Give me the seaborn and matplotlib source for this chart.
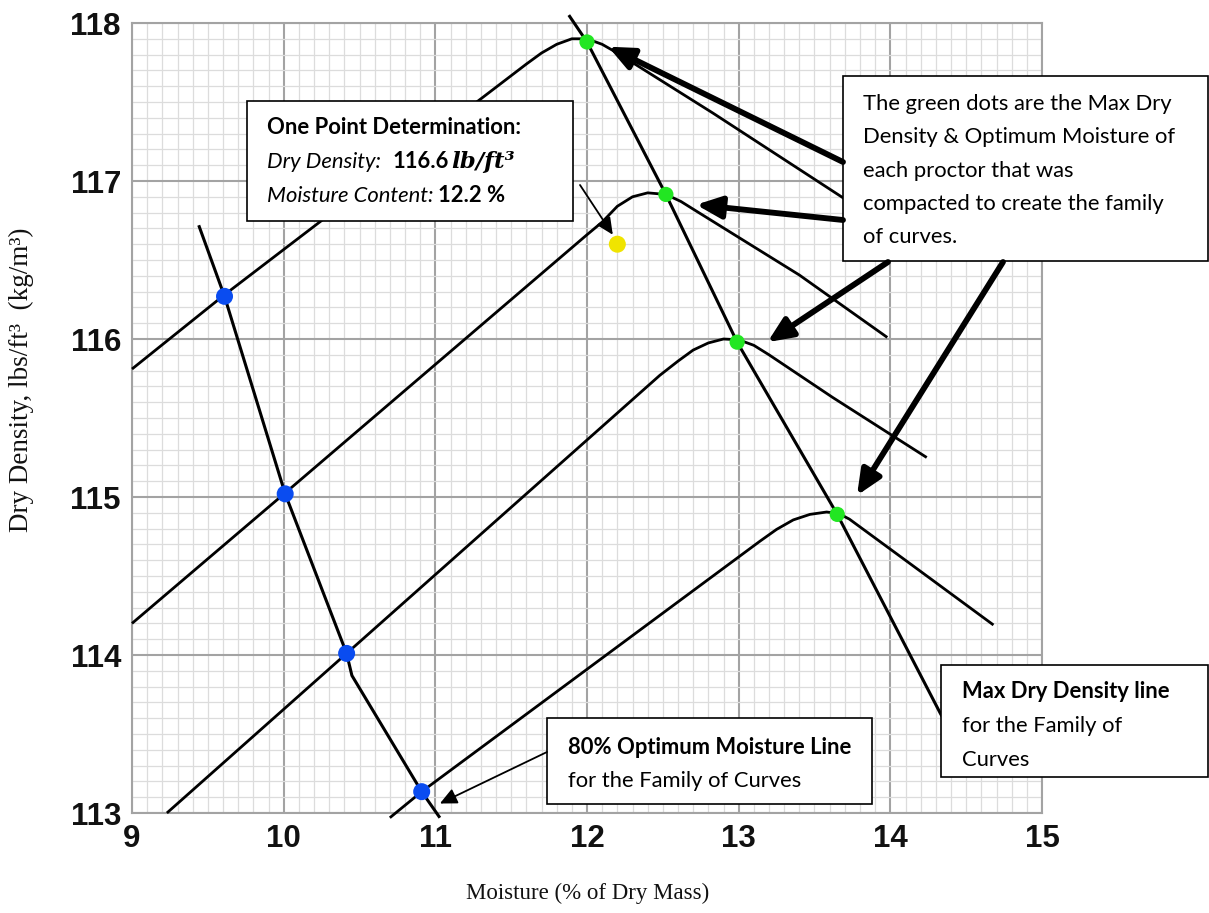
import matplotlib
matplotlib.use('Agg')
import matplotlib.pyplot as plt
import seaborn as sns
from matplotlib.patches import Rectangle
from matplotlib.ticker import MultipleLocator

# ---------------- data ----------------
x_ticks = [9, 10, 11, 12, 13, 14, 15]
y_ticks = [113, 114, 115, 116, 117, 118]

curve1_x = [9.00, 9.61, 11.60, 11.70, 11.80, 11.90, 12.00, 12.10, 12.20, 12.83, 13.95]
curve1_y = [115.81, 116.28, 117.74, 117.81, 117.865, 117.90, 117.90, 117.865, 117.81, 117.43, 116.73]

curve2_x = [9.00, 10.015, 12.00, 12.10, 12.20, 12.30, 12.40, 12.52, 12.62, 12.72, 13.40, 13.98]
curve2_y = [114.20, 115.03, 116.66, 116.74, 116.84, 116.90, 116.925, 116.915, 116.87, 116.81, 116.405, 116.01]

curve3_x = [9.23, 10.415, 12.48, 12.60, 12.70, 12.80, 12.90, 13.00, 13.10, 13.20, 13.62, 14.24]
curve3_y = [113.00, 114.01, 115.77, 115.86, 115.93, 115.975, 116.00, 115.995, 115.96, 115.90, 115.63, 115.25]

curve4_x = [10.70, 10.91, 13.14, 13.25, 13.36, 13.47, 13.58, 13.66, 13.73, 14.17, 14.68]
curve4_y = [112.97, 113.135, 114.72, 114.795, 114.855, 114.89, 114.905, 114.895, 114.86, 114.55, 114.19]

mdd_line_x = [11.88, 12.00, 12.52, 12.99, 13.65, 14.33, 14.55]
mdd_line_y = [118.05, 117.88, 116.915, 115.98, 114.89, 113.63, 113.25]

opt80_line_x = [9.44, 9.61, 10.01, 10.415, 10.45, 10.91, 11.03]
opt80_line_y = [116.72, 116.27, 115.02, 114.01, 113.87, 113.135, 112.97]

green_x = [12.00, 12.52, 12.99, 13.65]
green_y = [117.88, 116.915, 115.98, 114.89]

blue_x = [9.61, 10.01, 10.415, 10.91]
blue_y = [116.27, 115.02, 114.01, 113.135]

one_point_x = [12.2]
one_point_y = [116.6]

# ---------------- figure ----------------
sns.set_theme(style='white')
plt.rcParams['font.family'] = ['DejaVu Sans']

W, H = 1209, 913
fig = plt.figure(figsize=(W / 100, H / 100), dpi=100)
ax = fig.add_axes([132 / W, 1 - 813 / H, (1042 - 132) / W, (813 - 23) / H])

for cx, cy in [(curve1_x, curve1_y), (curve2_x, curve2_y),
               (curve3_x, curve3_y), (curve4_x, curve4_y)]:
    sns.lineplot(x=cx, y=cy, sort=False, estimator=None, color='black',
                 lw=2.0, ax=ax)
sns.lineplot(x=mdd_line_x, y=mdd_line_y, sort=False, estimator=None,
             color='black', lw=2.2, ax=ax)
sns.lineplot(x=opt80_line_x, y=opt80_line_y, sort=False, estimator=None,
             color='black', lw=2.2, ax=ax)
for ln in ax.lines:
    ln.set_clip_on(False)
    ln.set_solid_capstyle('butt')
    ln.set_solid_joinstyle('round')
    ln.set_zorder(3)

sns.scatterplot(x=blue_x, y=blue_y, color='#0a4cf0', s=150, edgecolor='none',
                ax=ax, zorder=5, clip_on=False)
sns.scatterplot(x=green_x, y=green_y, color='#22e622', s=120, edgecolor='none',
                ax=ax, zorder=5, clip_on=False)
sns.scatterplot(x=one_point_x, y=one_point_y, color='#f0e400', s=150,
                edgecolor='none', ax=ax, zorder=5, clip_on=False)

ax.set_xlim(9, 15)
ax.set_ylim(113, 118)
ax.set_xticks(x_ticks)
ax.set_yticks(y_ticks)
ax.set_xticklabels([str(v) for v in x_ticks])
ax.set_yticklabels([str(v) for v in y_ticks])
ax.xaxis.set_minor_locator(MultipleLocator(0.1))
ax.yaxis.set_minor_locator(MultipleLocator(0.1))
ax.grid(which='minor', color='#dcdcdc', lw=0.9)
ax.grid(which='major', color='#a3a3a3', lw=1.5)
ax.set_axisbelow(True)
for sp in ax.spines.values():
    sp.set_color('#a3a3a3')
    sp.set_linewidth(1.5)
ax.tick_params(which='both', length=0)
ax.tick_params(axis='x', pad=8)
ax.tick_params(axis='y', pad=8)
for lab in ax.get_xticklabels() + ax.get_yticklabels():
    lab.set_fontfamily('Liberation Sans')
    lab.set_fontweight('bold')
    lab.set_fontsize(22.5)
    lab.set_color('#111111')
ax.set_xlabel('')
ax.set_ylabel('')

fig.text(588 / W, 1 - 893 / H, 'Moisture (% of Dry Mass)',
         family='Liberation Serif', fontsize=16.5, ha='center', va='center',
         color='#111111')
fig.text(21 / W, 1 - 380 / H, 'Dry Density, lbs/ft³  (kg/m³)',
         family='Liberation Serif', fontsize=19.5, ha='center', va='center',
         rotation=90, color='#111111')

# ---------------- boxes ----------------
def box(x0, y0, x1, y1):
    r = Rectangle((x0 / W, 1 - y1 / H), (x1 - x0) / W, (y1 - y0) / H,
                  transform=fig.transFigure, facecolor='white',
                  edgecolor='black', lw=1.2, zorder=10, clip_on=False)
    ax.add_artist(r)

SANS = 'Lato'
FS = 15.8

def text_line(x_px, base_px, pieces, fs=FS):
    prev = None
    for s, kw, gap in pieces:
        opts = dict(family=SANS, fontsize=fs, color='black')
        opts.update(kw)
        if prev is None:
            t = ax.annotate(s, xy=(x_px, H - base_px), xycoords='figure pixels',
                            va='baseline', ha='left', annotation_clip=False,
                            zorder=11, **opts)
        else:
            t = ax.annotate(s, xy=(1, H - base_px),
                            xycoords=(prev, 'figure pixels'),
                            xytext=(gap, 0), textcoords='offset points',
                            va='baseline', ha='left', annotation_clip=False,
                            zorder=11, **opts)
        prev = t

# One point box
box(247, 101, 573, 221)
text_line(267, 134, [('One Point Determination:', dict(weight='bold'), 0)])
text_line(267, 168, [('Dry Density:', dict(style='italic'), 0),
                     ('116.6', dict(weight='bold'), 8),
                     ('lb/ft³', dict(family='DejaVu Serif', weight='bold',
                                     style='italic', fontsize=16.5), 2)])
text_line(267, 202, [('Moisture Content:', dict(style='italic'), 0),
                     ('12.2 %', dict(weight='bold'), 3)])

# Green dots box
box(843, 76, 1208, 261)
green_lines = ['The green dots are the Max Dry',
               'Density & Optimum Moisture of',
               'each proctor that was',
               'compacted to create the family',
               'of curves.']
for i, s in enumerate(green_lines):
    text_line(863, 110 + 33.3 * i, [(s, {}, 0)])

# Max dry density box
box(941, 665, 1208, 777)
text_line(962, 698, [('Max Dry Density line', dict(weight='bold'), 0)])
text_line(962, 732, [('for the Family of', {}, 0)])
text_line(962, 766, [('Curves', {}, 0)])

# 80% box
box(547, 718, 872, 804)
text_line(568, 754, [('80% Optimum Moisture Line', dict(weight='bold'), 0)])
text_line(568, 787, [('for the Family of Curves', {}, 0)])

# ---------------- arrows ----------------
thick = dict(arrowstyle='-|>,head_length=0.75,head_width=0.33', lw=4.2,
             color='black', mutation_scale=20, shrinkA=0, shrinkB=0)
thin = dict(arrowstyle='-|>,head_length=0.85,head_width=0.4', lw=1.3,
            color='black', mutation_scale=12, shrinkA=0, shrinkB=0)

arrows_thick = [((12.14, 117.85), (843, 162)),
                ((12.72, 116.85), (843, 220)),
                ((13.19, 115.98), (888, 262)),
                ((13.78, 115.01), (1003, 262))]
for tip, start in arrows_thick:
    ax.annotate('', xy=tip, xycoords='data', xytext=(start[0], H - start[1]),
                textcoords='figure pixels', arrowprops=thick,
                annotation_clip=False, zorder=12)

ax.annotate('', xy=(12.17, 116.66), xycoords='data', xytext=(580, H - 185),
            textcoords='figure pixels', arrowprops=thin,
            annotation_clip=False, zorder=12)
ax.annotate('', xy=(11.03, 113.06), xycoords='data', xytext=(547, H - 752),
            textcoords='figure pixels', arrowprops=thin,
            annotation_clip=False, zorder=12)

fig.savefig('out.png', dpi=100, facecolor='white')
